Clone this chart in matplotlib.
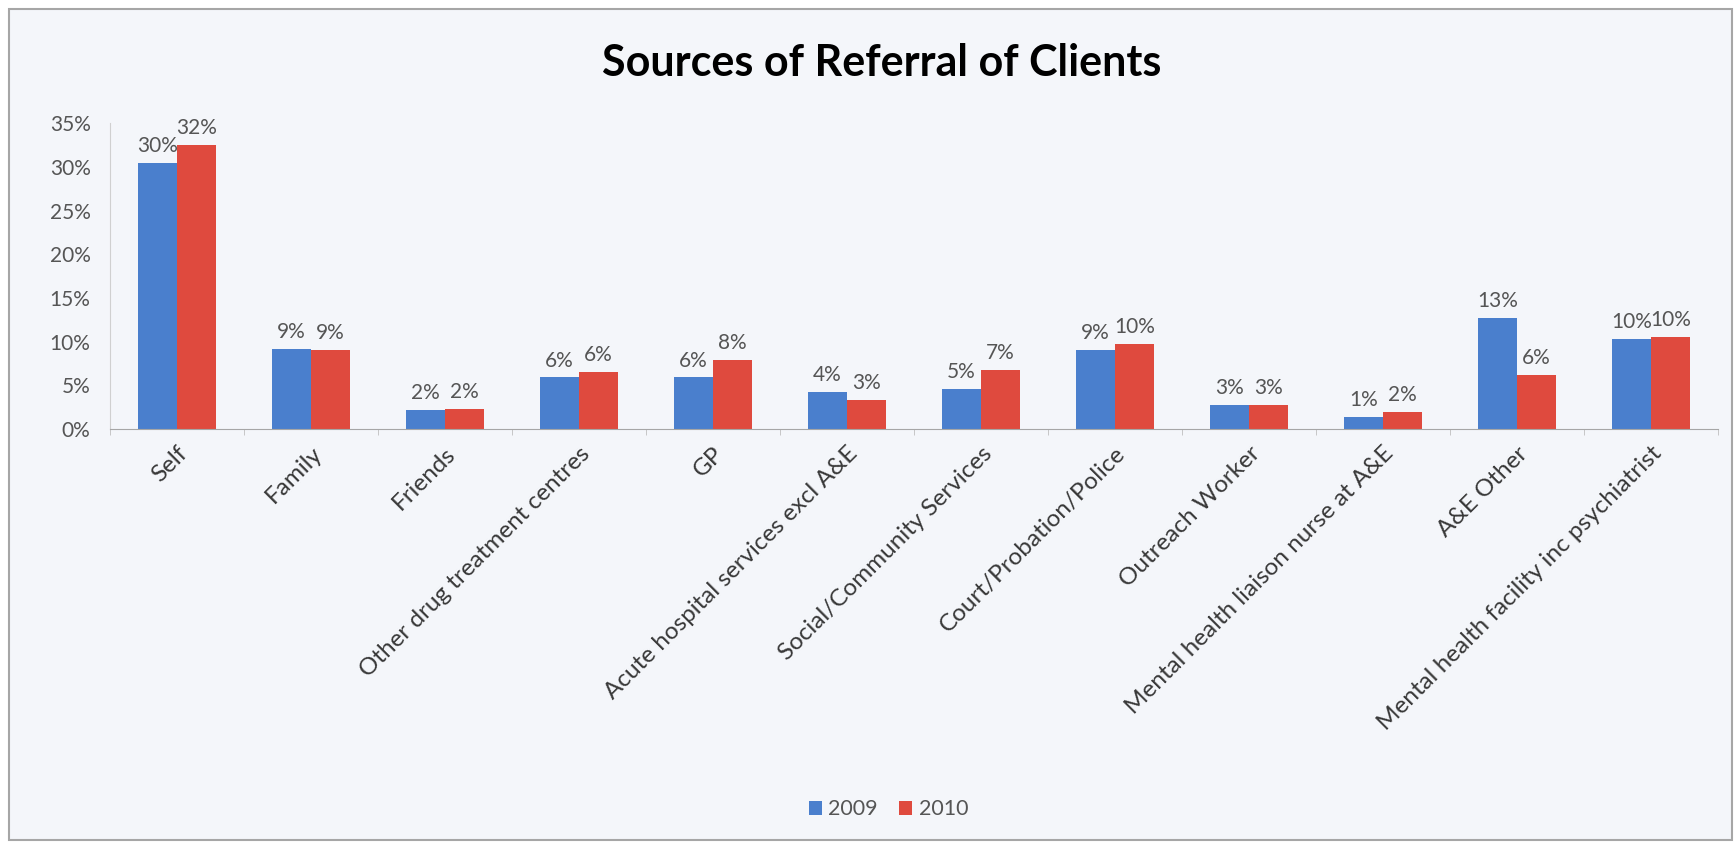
import numpy as np
import matplotlib.pyplot as plt
from matplotlib.patches import Rectangle

plt.rcParams["font.family"] = ["Lato", "DejaVu Sans"]

categories = [
    "Self", "Family", "Friends", "Other drug treatment centres", "GP",
    "Acute hospital services excl A&E", "Social/Community Services",
    "Court/Probation/Police", "Outreach Worker",
    "Mental health liaison nurse at A&E", "A&E Other",
    "Mental health facility inc psychiatrist",
]
vals_2009 = [30.5, 9.2, 2.2, 5.9, 5.9, 4.2, 4.6, 9.1, 2.7, 1.4, 12.7, 10.3]
vals_2010 = [32.5, 9.0, 2.3, 6.5, 7.9, 3.3, 6.8, 9.7, 2.7, 1.9, 6.2, 10.5]
labels_2009 = ["30%", "9%", "2%", "6%", "6%", "4%", "5%", "9%", "3%", "1%", "13%", "10%"]
labels_2010 = ["32%", "9%", "2%", "6%", "8%", "3%", "7%", "10%", "3%", "2%", "6%", "10%"]

bg = "#F4F6FA"
blue = "#4A7FCD"
red = "#DF4A3E"
grey_txt = "#555555"

fig = plt.figure(figsize=(17.35, 8.43), dpi=100, facecolor="white")
fig.patches.append(Rectangle((0.005, 0.003), 0.993, 0.986, transform=fig.transFigure,
                             facecolor=bg, edgecolor="#A6A6A6", lw=1.5, zorder=-10))

ax = fig.add_axes([0.0634, 0.4911, 0.9268, 0.3626])
ax.set_facecolor(bg)
ax.patch.set_alpha(0)

x = np.arange(len(categories))
w = 0.29
b1 = ax.bar(x - w / 2, vals_2009, w, color=blue, label="2009")
b2 = ax.bar(x + w / 2, vals_2010, w, color=red, label="2010")

for bars, labs in ((b1, labels_2009), (b2, labels_2010)):
    for rect, lab in zip(bars, labs):
        ax.annotate(lab, (rect.get_x() + rect.get_width() / 2, rect.get_height()),
                    xytext=(0, 5), textcoords="offset points", ha="center", va="bottom",
                    fontsize=15, color=grey_txt)

ax.set_xlim(-0.5, len(categories) - 0.5)
ax.set_ylim(0, 35)
ax.set_yticks(np.arange(0, 36, 5))
ax.set_yticklabels([f"{v}%" for v in range(0, 36, 5)])
ax.tick_params(axis="y", length=0, pad=14, labelsize=15, labelcolor=grey_txt)

ax.set_xticks(x)
ax.set_xticklabels(categories, rotation=45, ha="right", va="top", rotation_mode="anchor",
                   fontsize=17.5, color="#383838")
ax.tick_params(axis="x", length=0, pad=10)
ax.set_xticks(np.arange(-0.5, len(categories), 1), minor=True)
ax.tick_params(axis="x", which="minor", length=4, color="#BFBFBF", direction="out")

for s in ("top", "right"):
    ax.spines[s].set_visible(False)
ax.spines["left"].set_color("#D0D0D0")
ax.spines["bottom"].set_color("#A6A6A6")

fig.text(0.508, 0.925, "Sources of Referral of Clients", ha="center", va="center",
         fontsize=31, fontweight="bold", color="black")

fig.legend(handles=[b1, b2], labels=["2009", "2010"], loc="center", ncol=2,
           bbox_to_anchor=(0.512, 0.04), frameon=False, fontsize=15.5,
           handlelength=0.6, handleheight=0.6, handletextpad=0.3, columnspacing=1.0,
           labelcolor=grey_txt)

fig.savefig("out.png", dpi=100, facecolor="white")
